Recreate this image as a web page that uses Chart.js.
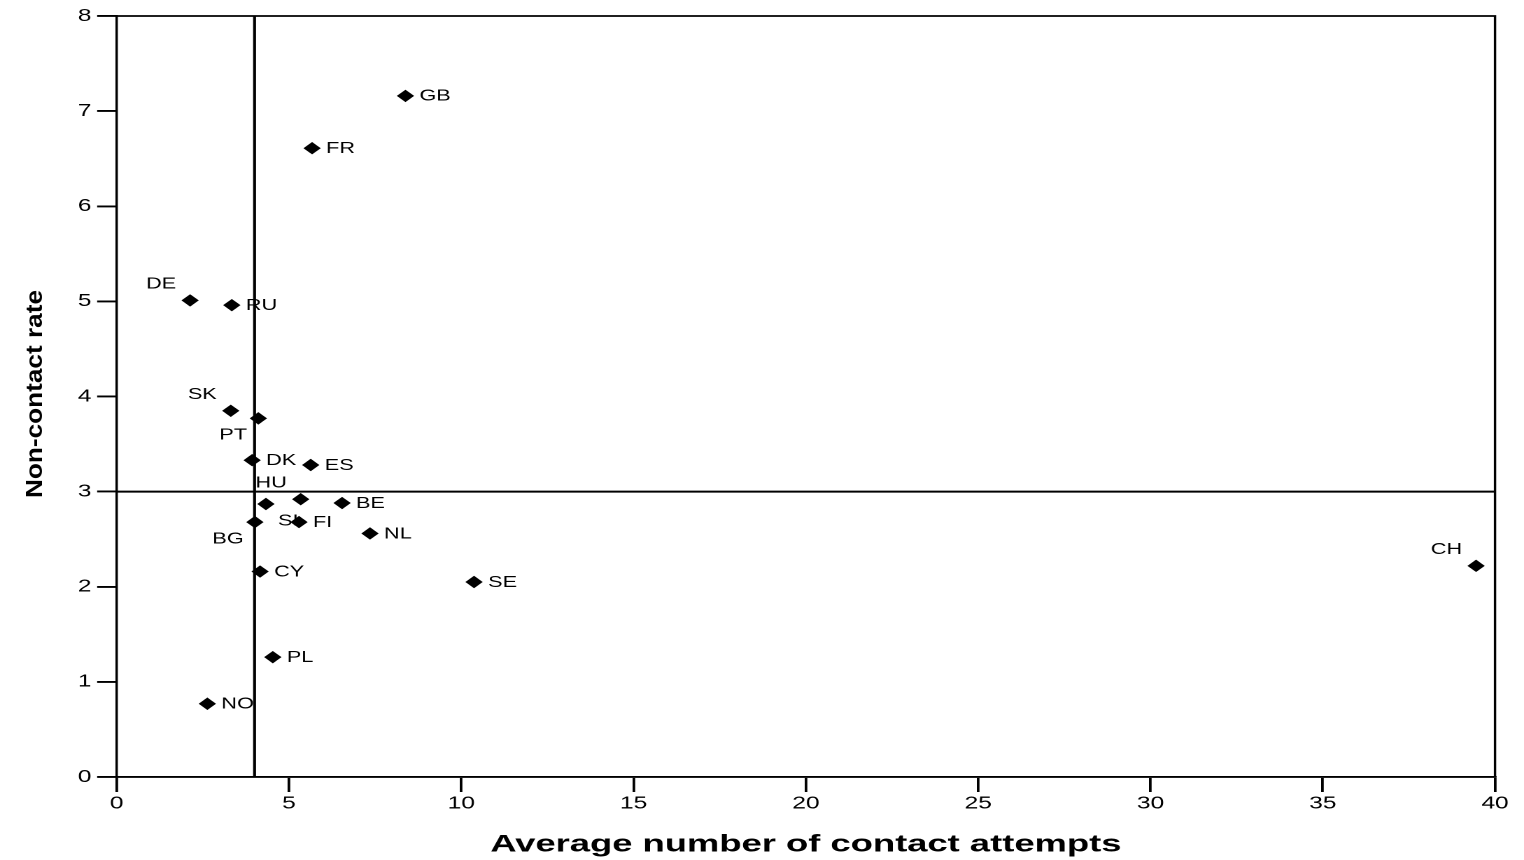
<!DOCTYPE html>
<html>
<head>
<meta charset="utf-8">
<title>Non-contact rate by average number of contact attempts</title>
<script src="https://cdn.jsdelivr.net/npm/chart.js@4.4.1/dist/chart.umd.min.js"></script>
<style>
  html, body { margin: 0; padding: 0; background: #fff; overflow: hidden; }
</style>
</head>
<body>
<!-- drawn on a narrower canvas and widened by CSS, giving the wide lettering and flat diamonds -->
<canvas id="c" width="1089" height="860" style="display:block;width:1524px;height:860px"></canvas>
<script>
// Country codes and their values
const countries  = ['GB', 'FR', 'DE', 'RU', 'SK', 'PT', 'DK', 'ES', 'HU', 'SI', 'BE', 'FI', 'BG', 'NL', 'CY', 'SE', 'CH', 'PL', 'NO'];
const attempts   = [8.38, 5.67, 2.13, 3.34, 3.31, 4.11, 3.93, 5.63, 5.34, 4.33, 6.54, 5.29, 4.01, 7.35, 4.16, 10.37, 39.45, 4.53, 2.63];
const nonContact = [7.16, 6.61, 5.01, 4.96, 3.85, 3.77, 3.33, 3.28, 2.92, 2.87, 2.88, 2.68, 2.68, 2.56, 2.16, 2.05, 2.22, 1.26, 0.77];

// Axis ticks
const xTickValues = [0, 5, 10, 15, 20, 25, 30, 35, 40];
const yTickValues = [0, 1, 2, 3, 4, 5, 6, 7, 8];

// Reference lines
const refAttempts = 4;
const refNonContact = 3;

const xTitle = 'Average number of contact attempts';
const yTitle = 'Non-contact rate';

const FONT = "'Liberation Sans', Arial, Helvetica, sans-serif";

// Where each country code sits relative to its marker (default: right)
const labelPlacement = {
  DE: 'upperLeft', SK: 'upperLeft', HU: 'upperLeft', CH: 'upperLeft',
  PT: 'lowerLeft', BG: 'lowerLeft',
  SI: 'lowerRight'
};
const placementStyle = {
  right:      { dx: 10,  dy: 0.5, align: 'left'  },
  upperLeft:  { dx: -10, dy: -16, align: 'right' },
  lowerLeft:  { dx: -8,  dy: 17,  align: 'right' },
  lowerRight: { dx: 8.6, dy: 17,  align: 'left'  }
};

// Country labels go underneath the markers
const pointLabels = {
  id: 'pointLabels',
  beforeDatasetsDraw(chart) {
    const ctx = chart.ctx;
    const meta = chart.getDatasetMeta(0);
    ctx.save();
    ctx.font = '15.5px ' + FONT;
    ctx.fillStyle = '#000';
    ctx.textBaseline = 'middle';
    meta.data.forEach((pt, i) => {
      const p = placementStyle[labelPlacement[countries[i]] || 'right'];
      ctx.textAlign = p.align;
      ctx.fillText(countries[i], pt.x + p.dx, pt.y + p.dy);
    });
    ctx.restore();
  }
};

// Reference lines and the top/right frame
const refLines = {
  id: 'refLines',
  beforeDatasetsDraw(chart) {
    const { ctx, chartArea: a, scales: { x, y } } = chart;
    ctx.save();
    ctx.strokeStyle = '#000';
    ctx.lineWidth = 1.7;
    ctx.beginPath();
    ctx.moveTo(a.left, a.top);
    ctx.lineTo(a.right, a.top);
    ctx.lineTo(a.right, a.bottom);
    ctx.stroke();

    const px = x.getPixelForValue(refAttempts);
    const py = y.getPixelForValue(refNonContact);
    ctx.lineWidth = 2.1;
    ctx.beginPath();
    ctx.moveTo(px, a.top);
    ctx.lineTo(px, a.bottom);
    ctx.moveTo(a.left, py);
    ctx.lineTo(a.right, py);
    ctx.stroke();
    ctx.restore();
  }
};

// Axis titles, fitted to a set length
const axisTitles = {
  id: 'axisTitles',
  afterDraw(chart) {
    const { ctx, chartArea: a } = chart;
    ctx.save();
    ctx.fillStyle = '#000';
    ctx.textAlign = 'center';
    ctx.textBaseline = 'middle';

    ctx.font = 'bold 24px ' + FONT;
    let w = ctx.measureText(xTitle).width;
    ctx.save();
    ctx.translate((a.left + a.right) / 2, 845);
    ctx.scale(451 / w, 1);
    ctx.fillText(xTitle, 0, 0);
    ctx.restore();

    ctx.font = 'bold 17px ' + FONT;
    w = ctx.measureText(yTitle).width;
    ctx.save();
    ctx.translate(25.5, 394);
    ctx.rotate(-Math.PI / 2);
    ctx.scale(208 / w, 1);
    ctx.fillText(yTitle, 0, 0);
    ctx.restore();

    ctx.restore();
  }
};

const tickFont = { family: FONT, size: 17.5 };

new Chart(document.getElementById('c'), {
  type: 'scatter',
  data: {
    datasets: [{
      data: attempts.map((v, i) => ({ x: v, y: nonContact[i] })),
      pointStyle: 'rectRot',
      pointRadius: 6.2,
      pointHoverRadius: 6.2,
      pointBackgroundColor: '#000',
      pointBorderWidth: 0,
      showLine: false
    }]
  },
  options: {
    responsive: false,
    animation: false,
    devicePixelRatio: 2,
    layout: { padding: { top: 16, right: 20.7, left: 0, bottom: 0 } },
    plugins: {
      legend: { display: false },
      tooltip: { enabled: false }
    },
    scales: {
      x: {
        type: 'linear',
        min: 0,
        max: 40,
        afterBuildTicks: s => { s.ticks = xTickValues.map(v => ({ value: v })); },
        afterFit: s => { s.height = 83; },
        grid: { drawOnChartArea: false, drawTicks: true, tickLength: 15, color: '#000', lineWidth: 1.9 },
        border: { display: true, color: '#000', width: 1.9 },
        ticks: { color: '#000', font: tickFont, padding: 1, maxRotation: 0, autoSkip: false }
      },
      y: {
        type: 'linear',
        min: 0,
        max: 8,
        afterBuildTicks: s => { s.ticks = yTickValues.map(v => ({ value: v })); },
        afterFit: s => { s.width = 83.4; },
        grid: { drawOnChartArea: false, drawTicks: true, tickLength: 14, color: '#000', lineWidth: 1.9 },
        border: { display: true, color: '#000', width: 1.7 },
        ticks: { color: '#000', font: tickFont, padding: 4, autoSkip: false }
      }
    }
  },
  plugins: [pointLabels, refLines, axisTitles]
});
</script>
</body>
</html>
